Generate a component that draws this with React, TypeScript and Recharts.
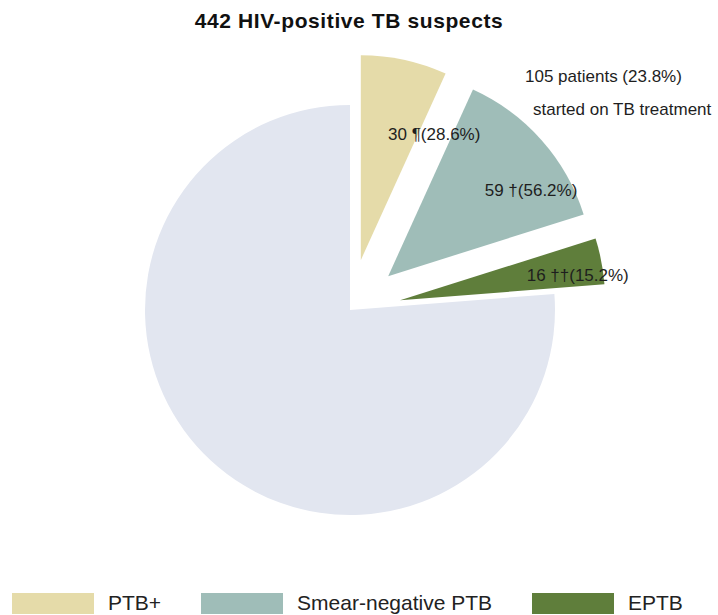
import { PieChart, Pie, Cell, Legend } from "recharts";

const categories = ["PTB+", "Smear-negative PTB", "EPTB", "Not started on TB treatment"];
const patients = [30, 59, 16, 337];
const sliceLabels = ["30 ¶(28.6%)", "59 †(56.2%)", "16 ††(15.2%)", ""];
const exploded = [true, true, true, false];
const colors = ["#e5dba9", "#9fbdb8", "#5f7e3b", "#e2e6f0"];
const legendItems = categories.slice(0, 3);

const title = "442 HIV-positive TB suspects";
const noteLines = ["105 patients (23.8%)", "started on TB treatment"];

const W = 718;
const H = 615;
const CX = 350;
const CY = 310;
const R = 205;
const EXPLODE = 51;
const LABEL_R = 129;
const FONT = "'Liberation Sans', Arial, sans-serif";

const rows = categories.map((name, i) => ({ name, value: patients[i] }));
const total = patients.reduce((a, b) => a + b, 0);

// mid angle of each slice, starting at 12 o'clock going clockwise
let acc = 0;
const midAngles = patients.map((v) => {
  const m = 90 - (360 * (acc + v / 2)) / total;
  acc += v;
  return m;
});

const RAD = Math.PI / 180;

function makeLabel(k: number) {
  return (props: any) => {
    if (props.index !== k) return null;
    const a = props.midAngle * RAD;
    const x = props.cx + LABEL_R * Math.cos(a);
    const y = props.cy - LABEL_R * Math.sin(a);
    return (
      <text
        x={x}
        y={y}
        textAnchor="start"
        dominantBaseline="central"
        fontSize={17}
        fontFamily={FONT}
        fill="#1e1e1e"
      >
        {sliceLabels[k]}
      </text>
    );
  };
}

function LegendRow() {
  return (
    <div
      style={{
        display: "flex",
        alignItems: "center",
        fontFamily: FONT,
        fontSize: 21,
        color: "#222",
      }}
    >
      {legendItems.map((c, i) => (
        <div
          key={c}
          style={{ display: "flex", alignItems: "center", marginLeft: i === 0 ? 12 : 40 }}
        >
          <span
            style={{ display: "inline-block", width: 82, height: 21, background: colors[i] }}
          />
          <span style={{ marginLeft: 14 }}>{c}</span>
        </div>
      ))}
    </div>
  );
}

export default function App() {
  return (
    <div
      style={{
        position: "absolute",
        left: 0,
        top: 0,
        width: W,
        height: H,
        background: "#fff",
      }}
    >
      <PieChart width={W} height={H} margin={{ top: 0, right: 0, bottom: 0, left: 0 }}>
        <text
          x={349}
          y={28}
          textAnchor="middle"
          fontSize={21}
          fontWeight="bold"
          letterSpacing={0.6}
          fontFamily={FONT}
          fill="#111"
        >
          {title}
        </text>
        <text x={525} y={82} fontSize={17} fontFamily={FONT} fill="#1e1e1e">
          {noteLines[0]}
        </text>
        <text x={533} y={115} fontSize={17} fontFamily={FONT} fill="#1e1e1e">
          {noteLines[1]}
        </text>
        {rows.map((_, k) => {
          const a = midAngles[k] * RAD;
          const off = exploded[k] ? EXPLODE : 0;
          return (
            <Pie
              key={k}
              data={rows}
              dataKey="value"
              nameKey="name"
              cx={CX + off * Math.cos(a)}
              cy={CY - off * Math.sin(a)}
              outerRadius={R}
              startAngle={90}
              endAngle={-270}
              stroke="none"
              label={exploded[k] ? makeLabel(k) : false}
              labelLine={false}
              isAnimationActive={false}
            >
              {rows.map((r, i) => (
                <Cell key={r.name} fill={i === k ? colors[i] : "transparent"} />
              ))}
            </Pie>
          );
        })}
        <Legend
          content={() => <LegendRow />}
          wrapperStyle={{ position: "absolute", left: 0, top: 591, width: W }}
        />
      </PieChart>
    </div>
  );
}
